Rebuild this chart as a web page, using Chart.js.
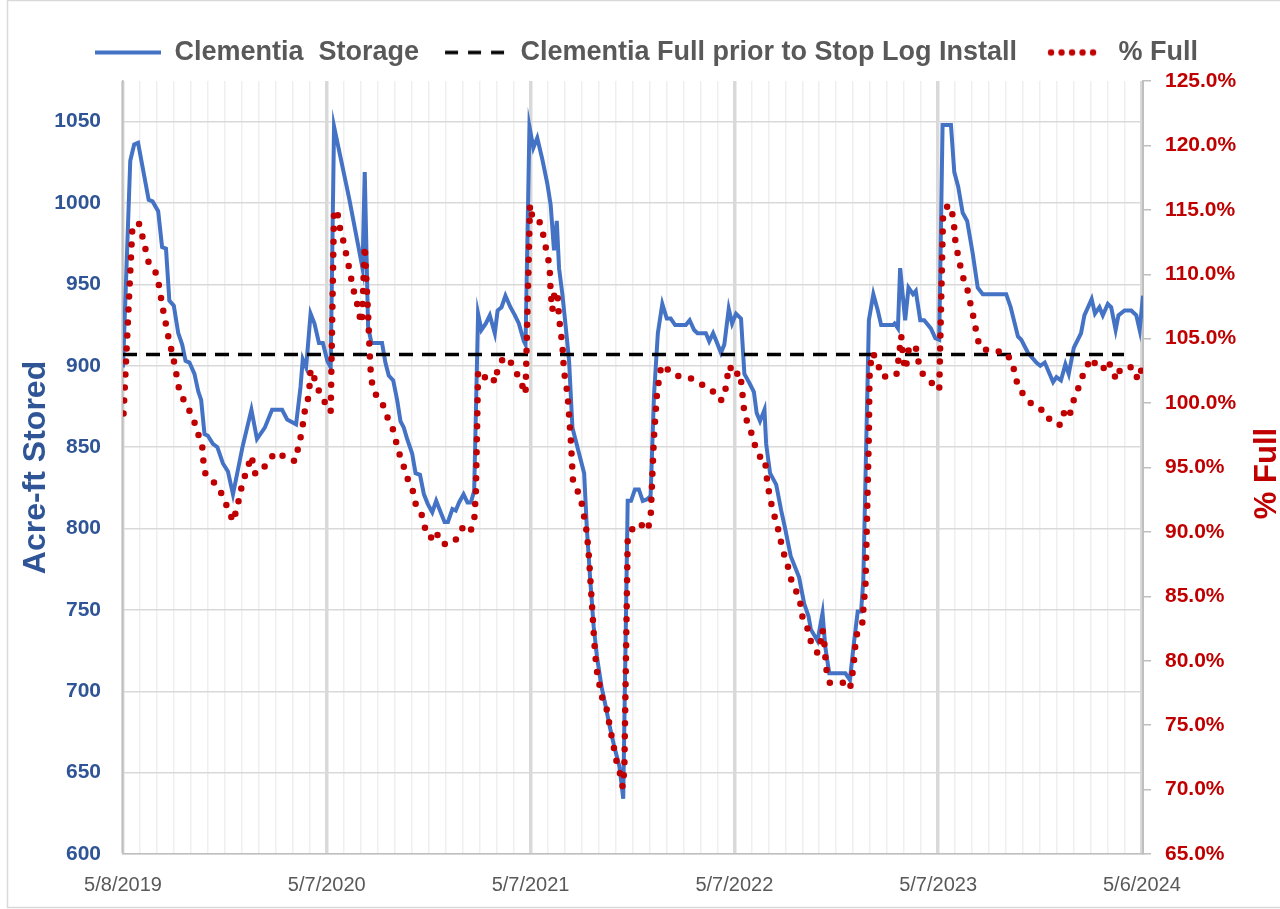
<!DOCTYPE html>
<html>
<head>
<meta charset="utf-8">
<script src="https://cdn.jsdelivr.net/npm/chart.js@4.4.1/dist/chart.umd.min.js"></script>
<style>
  body { margin: 0; background: #fff; }
</style>
</head>
<body>
<canvas id="myChart" width="1280" height="909"></canvas>
<script>
// days since 5/8/2019
const storageDays = [0, 13, 20, 27, 46, 53, 63, 70, 77, 83, 91, 99, 106, 112, 119, 128, 135, 140, 146, 152, 161, 169, 179, 188, 197, 214, 230, 240, 254, 267, 285, 294, 310, 318, 322, 328, 336, 343, 351, 358, 366, 372, 378, 405, 429, 433, 439, 445, 464, 470, 476, 484, 491, 497, 503, 509, 518, 524, 532, 539, 546, 554, 561, 569, 576, 582, 590, 596, 602, 610, 617, 623, 629, 636, 642, 650, 657, 666, 671, 678, 685, 694, 702, 709, 718, 721, 728, 735, 742, 751, 760, 766, 772, 777, 781, 787, 793, 799, 805, 811, 817, 823, 826, 831, 837, 843, 849, 857, 865, 872, 880, 889, 893, 896, 904, 910, 917, 924, 931, 939, 945, 951, 958, 966, 974, 981, 989, 1008, 1015, 1023, 1029, 1044, 1050, 1057, 1063, 1071, 1077, 1085, 1091, 1098, 1107, 1113, 1121, 1130, 1135, 1141, 1149, 1152, 1159, 1170, 1179, 1186, 1196, 1211, 1220, 1228, 1232, 1244, 1253, 1258, 1265, 1294, 1302, 1309, 1316, 1322, 1326, 1336, 1344, 1352, 1358, 1379, 1382, 1388, 1392, 1401, 1407, 1415, 1420, 1428, 1435, 1447, 1455, 1462, 1468, 1483, 1489, 1496, 1504, 1512, 1522, 1531, 1540, 1582, 1590, 1603, 1609, 1621, 1636, 1643, 1651, 1666, 1672, 1680, 1688, 1694, 1703, 1716, 1722, 1735, 1741, 1749, 1755, 1764, 1770, 1778, 1783, 1794, 1806, 1815, 1821, 1827];
const storage = [899, 1026, 1036, 1037, 1002, 1001, 995, 973, 972, 940, 937, 920, 913, 903, 902, 895, 884, 879, 858, 857, 852, 850, 840, 835, 821, 850, 873, 855, 862, 873, 873, 867, 864, 887, 904, 899, 932, 926, 914, 914, 903, 899, 1047, 1003, 960, 1019, 924, 914, 914, 902, 894, 891, 879, 866, 862, 855, 846, 834, 833, 821, 815, 810, 817, 810, 804, 804, 812, 811, 816, 821, 816, 816, 823, 932, 922, 926, 931, 920, 934, 936, 943, 936, 931, 926, 915, 913, 1047, 1034, 1040, 1027, 1012, 999, 971, 989, 960, 944, 924, 903, 862, 854, 846, 838, 834, 799, 768, 740, 721, 703, 690, 678, 666, 654, 643, 634, 817, 817, 824, 824, 817, 818, 820, 881, 920, 938, 929, 929, 925, 925, 928, 922, 920, 920, 915, 920, 915, 908, 913, 935, 926, 932, 929, 895, 890, 884, 871, 866, 873, 852, 834, 827, 811, 800, 783, 770, 754, 746, 738, 731, 748, 727, 711, 711, 707, 729, 749, 749, 768, 928, 944, 934, 925, 925, 926, 923, 960, 928, 948, 944, 946, 928, 928, 923, 917, 916, 1048, 1048, 1019, 1010, 994, 989, 969, 948, 944, 944, 936, 918, 916, 908, 902, 900, 902, 890, 893, 891, 901, 895, 911, 920, 931, 941, 932, 936, 931, 938, 936, 922, 931, 934, 934, 931, 922, 943];

const pctDays = [1, 17, 29, 35, 46, 58, 64, 72, 81, 91, 100, 109, 119, 128, 142, 144, 148, 160, 173, 183, 192, 197, 204, 209, 214, 222, 230, 237, 250, 262, 278, 294, 309, 314, 320, 326, 333, 336, 345, 352, 361, 372, 378, 384, 388, 394, 399, 404, 409, 414, 420, 425, 428, 433, 439, 443, 446, 452, 464, 470, 482, 488, 494, 502, 509, 519, 524, 534, 540, 551, 560, 570, 584, 596, 608, 621, 629, 632, 636, 642, 653, 660, 666, 671, 681, 690, 702, 712, 721, 729, 733, 741, 749, 754, 759, 764, 766, 769, 772, 778, 781, 787, 790, 794, 797, 802, 806, 816, 823, 827, 831, 835, 838, 841, 844, 848, 857, 866, 875, 884, 890, 895, 898, 904, 912, 925, 939, 945, 948, 951, 956, 959, 963, 969, 981, 1002, 1020, 1038, 1053, 1062, 1072, 1080, 1083, 1087, 1093, 1105, 1108, 1113, 1120, 1129, 1134, 1143, 1150, 1152, 1155, 1159, 1165, 1172, 1177, 1183, 1190, 1196, 1205, 1213, 1217, 1226, 1232, 1244, 1249, 1253, 1256, 1258, 1260, 1266, 1290, 1302, 1306, 1309, 1311, 1314, 1324, 1326, 1330, 1336, 1337, 1338, 1343, 1352, 1358, 1379, 1386, 1394, 1396, 1399, 1402, 1405, 1409, 1421, 1425, 1432, 1450, 1462, 1469, 1479, 1486, 1489, 1491, 1496, 1501, 1507, 1515, 1519, 1525, 1529, 1535, 1555, 1579, 1593, 1598, 1604, 1619, 1635, 1652, 1662, 1679, 1686, 1695, 1700, 1709, 1717, 1725, 1736, 1744, 1755, 1764, 1773, 1779, 1787, 1809, 1818, 1823, 1826];
const pctFull = [99.2, 113.8, 113.9, 112.9, 110.9, 110.2, 109.2, 107.2, 105.2, 103.3, 101.2, 100.2, 99.4, 98.5, 96.6, 95.5, 94.4, 94.0, 93.3, 92.3, 91.4, 90.8, 91.8, 92.8, 93.8, 94.8, 95.9, 94.5, 94.8, 95.7, 96.2, 95.6, 95.5, 96.6, 97.7, 99.5, 100.6, 102.6, 101.7, 100.8, 100.1, 99.3, 115.0, 114.8, 113.7, 112.7, 111.7, 110.7, 109.6, 108.6, 107.6, 106.5, 106.2, 112.2, 106.9, 102.8, 101.6, 100.7, 100.1, 99.2, 98.2, 97.2, 96.2, 95.2, 94.2, 93.2, 92.2, 91.5, 90.4, 89.5, 90.1, 89.1, 89.0, 89.4, 90.3, 89.9, 90.8, 93.0, 102.4, 101.9, 102.1, 102.2, 101.6, 102.6, 103.5, 103.5, 102.6, 101.7, 100.7, 115.4, 114.5, 114.5, 113.8, 112.8, 111.7, 110.7, 108.6, 107.2, 108.3, 108.7, 106.6, 104.5, 102.4, 101.4, 100.3, 97.2, 94.0, 93.0, 92.0, 90.9, 89.9, 87.8, 85.7, 83.7, 81.5, 79.4, 77.3, 76.3, 74.2, 72.2, 71.3, 70.2, 71.6, 89.5, 90.2, 90.7, 90.1, 91.0, 94.2, 97.3, 100.5, 101.5, 102.6, 103.0, 102.3, 102.0, 101.9, 101.4, 100.9, 100.9, 100.2, 101.2, 102.2, 102.9, 102.1, 102.4, 101.4, 99.2, 98.3, 97.3, 96.3, 95.7, 95.7, 94.6, 93.6, 92.6, 91.5, 90.5, 89.5, 88.4, 87.5, 86.4, 85.5, 84.5, 83.4, 82.5, 81.5, 80.6, 81.3, 82.4, 81.5, 80.3, 79.3, 78.3, 78.3, 77.8, 78.8, 79.8, 80.9, 82.0, 82.8, 83.9, 86.0, 97.6, 101.7, 102.8, 103.9, 103.1, 102.1, 102.0, 102.3, 105.2, 104.1, 103.1, 102.6, 103.6, 104.5, 104.2, 103.2, 102.3, 101.5, 101.0, 114.8, 115.4, 114.6, 113.6, 112.5, 111.4, 110.4, 109.4, 108.5, 107.4, 106.4, 105.3, 104.3, 104.0, 104.0, 103.2, 102.1, 101.2, 100.3, 99.6, 99.4, 98.5, 98.3, 99.3, 98.9, 99.9, 100.9, 101.9, 102.8, 103.5, 102.8, 102.6, 103.3, 102.5, 101.8, 102.7, 102.8, 101.8, 102.3, 103.4];

const fullDays = [0, 1793];
const fullLevel = [907, 907];

const xTickLabels = ['5/8/2019', '5/7/2020', '5/7/2021', '5/7/2022', '5/7/2023', '5/6/2024'];

const toPoints = (xs, ys) => xs.map((d, i) => ({x: d, y: ys[i]}));

Chart.defaults.font.family = "'Liberation Sans', Arial, sans-serif";

// small legend key pictures, Excel style
function legendKey(draw) {
  const c = document.createElement('canvas');
  c.width = 66;
  c.height = 10;
  draw(c.getContext('2d'));
  return c;
}
const blueKey = legendKey(g => {
  g.strokeStyle = '#4472C4'; g.lineWidth = 4;
  g.beginPath(); g.moveTo(0, 5); g.lineTo(66, 5); g.stroke();
});
const blackKey = legendKey(g => {
  g.strokeStyle = '#000'; g.lineWidth = 3.5; g.setLineDash([13, 10]);
  g.beginPath(); g.moveTo(4, 5); g.lineTo(63, 5); g.stroke();
});
const redKey = legendKey(g => {
  g.fillStyle = '#C00000';
  for (let i = 0; i < 5; i++) {
    g.beginPath(); g.arc(12 + i * 10.5, 5, 3.2, 0, Math.PI * 2); g.fill();
  }
});

const rightTitle = {
  id: 'rightTitle',
  beforeLayout(chart) {
    // leave a little room between legend and plot
    const lg = chart.legend;
    if (lg && !lg._grown) {
      const fit = lg.fit.bind(lg);
      lg.fit = function() { fit(); this.height += 5; };
      lg._grown = true;
    }
  },
  afterDraw(chart) {
    const {ctx, chartArea} = chart;
    ctx.save();
    ctx.translate(1267, (chartArea.top + chartArea.bottom) / 2 + 6);
    ctx.rotate(-Math.PI / 2);
    ctx.font = "bold 31px 'Liberation Sans', Arial, sans-serif";
    ctx.fillStyle = '#C00000';
    ctx.textAlign = 'center';
    ctx.textBaseline = 'middle';
    ctx.fillText('% Full', 0, 0);
    ctx.restore();
  }
};

const frame = {
  id: 'frame',
  beforeDraw(chart) {
    const {ctx} = chart;
    ctx.save();
    ctx.fillStyle = '#fff';
    ctx.fillRect(0, 0, chart.width, chart.height);
    ctx.strokeStyle = '#D9D9D9';
    ctx.lineWidth = 1.5;
    ctx.strokeRect(7.5, 0.5, 1290, 907);
    ctx.restore();
  }
};

const config = {
  type: 'line',
  data: {
    datasets: [{
      label: 'Clementia  Storage',
      data: toPoints(storageDays, storage),
      borderColor: '#4472C4',
      backgroundColor: '#4472C4',
      borderWidth: 4,
      pointRadius: 0,
      pointStyle: blueKey,
      tension: 0,
      yAxisID: 'y',
      order: 2
    },
    {
      label: 'Clementia Full prior to Stop Log Install',
      data: toPoints(fullDays, fullLevel),
      borderColor: '#000',
      backgroundColor: '#000',
      borderWidth: 3.5,
      borderDash: [14, 9],
      pointRadius: 0,
      pointStyle: blackKey,
      yAxisID: 'y',
      order: 1
    },
    {
      label: '% Full',
      data: toPoints(pctDays, pctFull),
      borderColor: '#C00000',
      backgroundColor: '#C00000',
      borderWidth: 6.5,
      borderDash: [0, 13],
      borderCapStyle: 'round',
      pointRadius: 0,
      pointStyle: redKey,
      tension: 0,
      yAxisID: 'y1',
      order: 0
    }]
  },
  options: {
    responsive: false,
    animation: false,
    layout: { padding: { left: 13, right: 0, top: 17, bottom: 0 } },
    plugins: {
      legend: {
        position: 'top',
        labels: {
          usePointStyle: true,
          pointStyleWidth: 66,
          color: '#595959',
          font: { size: 27, weight: 'bold' },
          padding: 22,
          sort: (a, b) => a.datasetIndex - b.datasetIndex
        }
      },
      tooltip: { enabled: false }
    },
    scales: {
      x: {
        type: 'linear',
        min: 0,
        max: 1827,
        afterBuildTicks: scale => {
          const t = [];
          for (let i = 0; i <= 60; i++) t.push({value: i * 365 / 12});
          scale.ticks = t;
        },
        afterFit: scale => { scale.height = 55; },
        ticks: {
          autoSkip: false,
          maxRotation: 0,
          padding: 19,
          color: '#595959',
          font: { size: 20 },
          callback: (v, i) => i % 12 === 0 ? xTickLabels[i / 12] : ''
        },
        grid: {
          drawTicks: false,
          color: c => c.index % 12 === 0 ? '#D9D9D9' : '#EFEFEF',
          lineWidth: c => c.index % 12 === 0 ? 3.5 : 1.5
        },
        border: { color: '#BFBFBF', width: 1.5 }
      },
      y: {
        position: 'left',
        min: 600,
        max: 1075,
        afterFit: scale => { scale.width = 110; },
        ticks: {
          stepSize: 50,
          includeBounds: false,
          padding: 22,
          color: '#2F5597',
          font: { size: 21, weight: 'bold' },
          callback: v => String(v)
        },
        grid: { color: '#D9D9D9', lineWidth: 1.5, drawTicks: false },
        border: { color: '#BFBFBF', width: 1.5 },
        title: {
          display: true,
          text: 'Acre-ft Stored',
          color: '#2F5597',
          font: { size: 32, weight: 'bold' }
        }
      },
      y1: {
        position: 'right',
        min: 65,
        max: 125,
        afterFit: scale => { scale.width = 137; },
        ticks: {
          stepSize: 5,
          padding: 14,
          color: '#C00000',
          font: { size: 21, weight: 'bold' },
          callback: v => v.toFixed(1) + '%'
        },
        grid: { drawOnChartArea: false, tickLength: 8, color: '#BFBFBF', lineWidth: 1.5 },
        border: { color: '#BFBFBF', width: 2 }
      }
    }
  },
  plugins: [frame, rightTitle]
};

const myChart = new Chart(document.getElementById('myChart'), config);
</script>
</body>
</html>
